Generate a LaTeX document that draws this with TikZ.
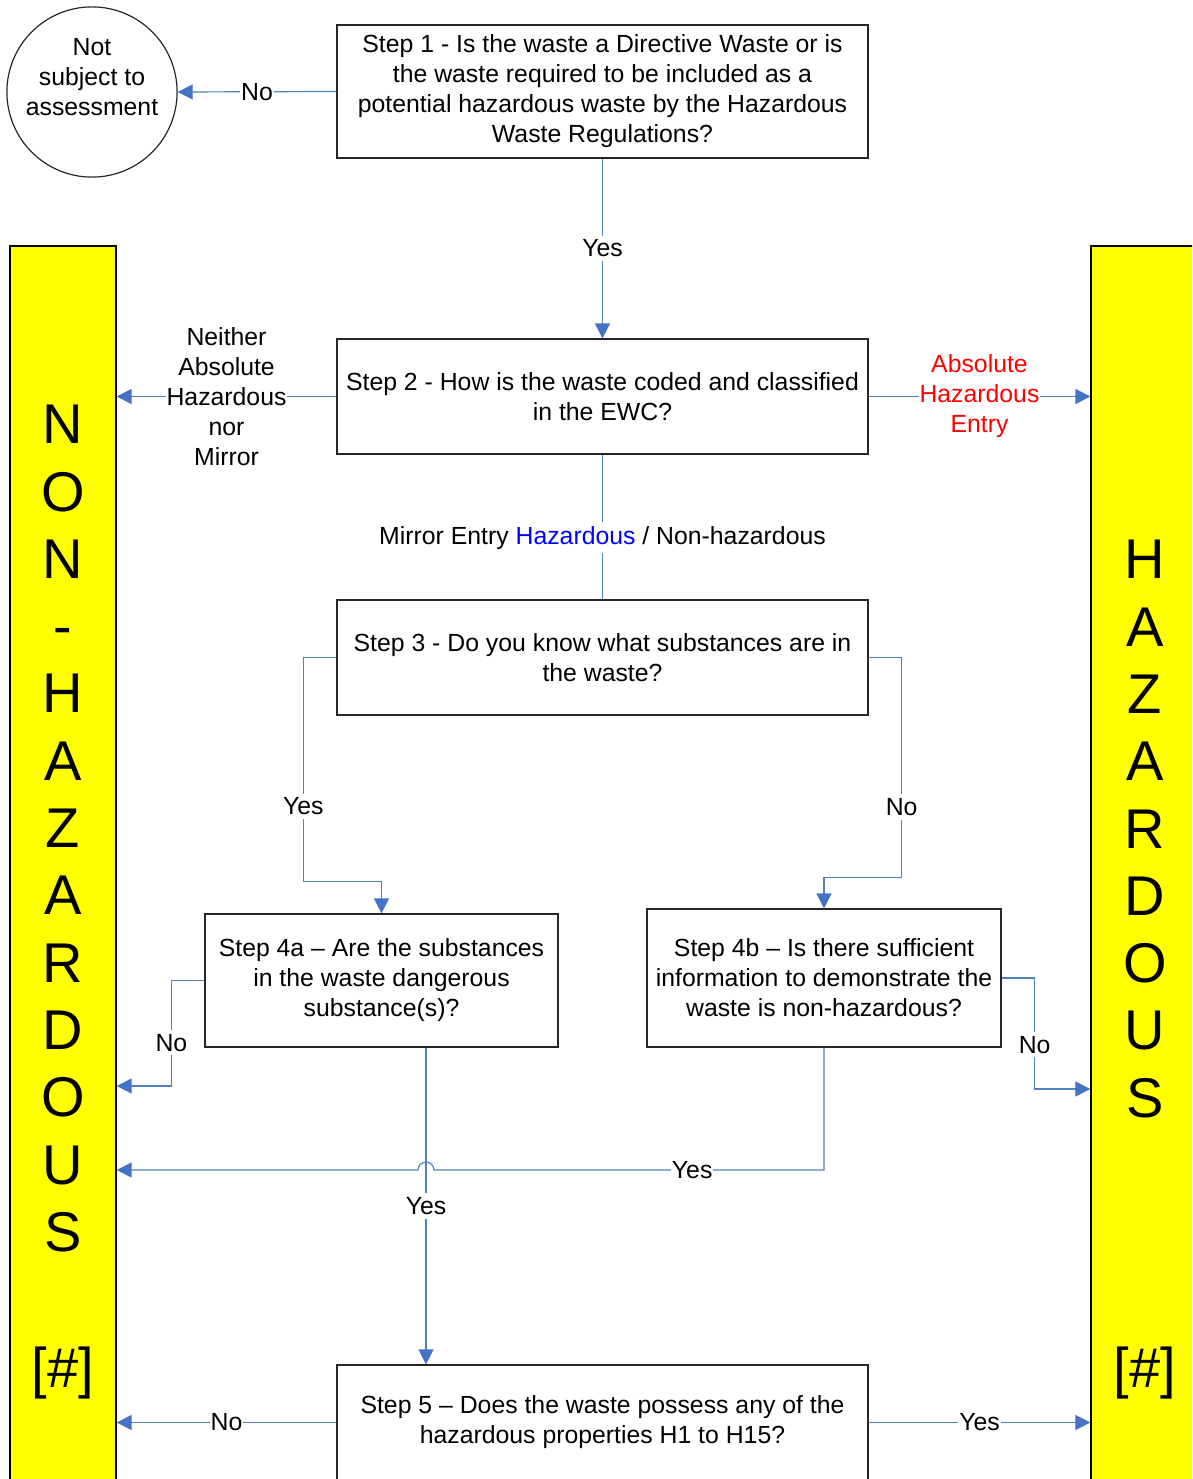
\documentclass[tikz,border=0pt]{standalone}
\usepackage{fontspec}
\setmainfont{Liberation Sans}
\usetikzlibrary{arrows.meta}
\definecolor{connc}{RGB}{79,129,189}
\definecolor{tipc}{RGB}{68,114,196}
\definecolor{barY}{RGB}{255,255,0}
\definecolor{hzred}{RGB}{255,0,0}
\definecolor{hzblue}{RGB}{0,0,255}
\begin{document}
\begin{tikzpicture}[x=1pt,y=-1pt, font=\fontsize{24.8}{30}\selectfont,
 box/.style={draw=black!85, line width=1.2pt, fill=white, align=center, inner sep=0pt},
 arrowline/.style={draw=connc, line width=1.2pt, -{Triangle[length=15pt,width=15pt,color=tipc]}},
 plainline/.style={draw=connc, line width=1.2pt},
 lbl/.style={fill=white, inner xsep=1pt, inner ysep=4pt, align=center},
 bar/.style={draw=black, line width=1.3pt, fill=barY, inner sep=0pt},
 big/.style={font=\fontsize{56}{67.3}\selectfont, align=center, inner sep=0pt}]
\useasboundingbox (0,0) rectangle (1192,1479);
\clip (0,0) rectangle (1192,1479);

% side bars
\node[bar, minimum width=106pt, minimum height=1260pt] (nh) at (63,876) {};
\node[bar, minimum width=120pt, minimum height=1260pt] (hz) at (1151,876) {};
\node[big] (nhtxt) at (63,828.5) {N\\O\\N\\-\\H\\A\\Z\\A\\R\\D\\O\\U\\S};
\node[big] (hztxt) at (1145,829) {H\\A\\Z\\A\\R\\D\\O\\U\\S};
\node[big] (nhref) at (63,1373) {[\#]};
\node[big] (hzref) at (1145,1373) {[\#]};

% nodes
\node[draw=black!85, line width=1.2pt, circle, minimum size=168pt, inner sep=0pt, align=center] (nsa) at (92,92) {Not\\subject to\\assessment\\\mbox{}};
\node[box, minimum width=531pt, minimum height=133pt] (s1) at (602.5,91.5) {Step 1 - Is the waste a Directive Waste or is\\the waste required to be included as a\\potential hazardous waste by the Hazardous\\Waste Regulations?};
\node[box, minimum width=531pt, minimum height=115pt] (s2) at (602.5,396.5) {Step 2 - How is the waste coded and classified\\in the EWC?};
\node[box, minimum width=531pt, minimum height=115pt] (s3) at (602.5,657.5) {Step 3 - Do you know what substances are in\\the waste?};
\node[box, minimum width=353pt, minimum height=133pt] (s4a) at (381.5,980.5) {Step 4a – Are the substances\\in the waste dangerous\\substance(s)?};
\node[box, minimum width=354pt, minimum height=138pt] (s4b) at (824,978) {Step 4b – Is there sufficient\\information to demonstrate the\\waste is non-hazardous?};
\node[box, minimum width=531pt, minimum height=115pt] (s5) at (602.5,1422.5) {Step 5 – Does the waste possess any of the\\hazardous properties H1 to H15?};

% helper coordinates
\coordinate (y4a) at (0,1086);
\coordinate (y4b) at (0,1089);
\coordinate (jx) at (426,1170);
\coordinate (jR) at (434,1170);

% connectors
\draw[arrowline] (s1.west) -- node[lbl]{No} (nsa.east);
\draw[arrowline] (s1.south) -- node[lbl]{Yes} (s2.north);
\draw[arrowline] (s2.west) -- node[lbl, inner ysep=1pt]{Neither\\Absolute\\Hazardous\\nor\\Mirror} (nh.east |- s2.west);
\draw[arrowline] (s2.east) -- node[lbl, inner ysep=1pt, text=hzred]{Absolute\\Hazardous\\Entry} (hz.west |- s2.east);
\draw[plainline] (s2.south) -- node[lbl, pos=0.575]{Mirror Entry {\color{hzblue}Hazardous} / Non-hazardous} (s3.north);
\draw[arrowline] (s3.west) -- ++(-33,0) -- node[lbl, pos=0.665]{Yes} ++(0,224) -| (s4a.north);
\draw[arrowline] (s3.east) -- ++(33,0) -- node[lbl, pos=0.68]{No} ++(0,220) -| (s4b.north);
\draw[arrowline] (s4a.west) -- ++(-33,0) coordinate (k1) -- node[lbl, pos=0.59]{No} (k1 |- y4a) -- (nh.east |- y4a);
\draw[arrowline] (s4b.east) -- ++(33,0) coordinate (k2) -- node[lbl, pos=0.6]{No} (k2 |- y4b) -- (hz.west |- y4b);
\draw[arrowline] (s4b.south) -- (s4b.south |- jR) -- node[lbl, pos=0.338]{Yes} (jR) arc[start angle=0, end angle=180, radius=8pt] -- (nh.east |- jR);
\draw[arrowline] (s4a.south -| jx) -- node[lbl]{Yes} (s5.north -| jx);
\draw[arrowline] (s5.west) -- node[lbl]{No} (nh.east |- s5.west);
\draw[arrowline] (s5.east) -- node[lbl]{Yes} (hz.west |- s5.east);
\end{tikzpicture}
\end{document}
